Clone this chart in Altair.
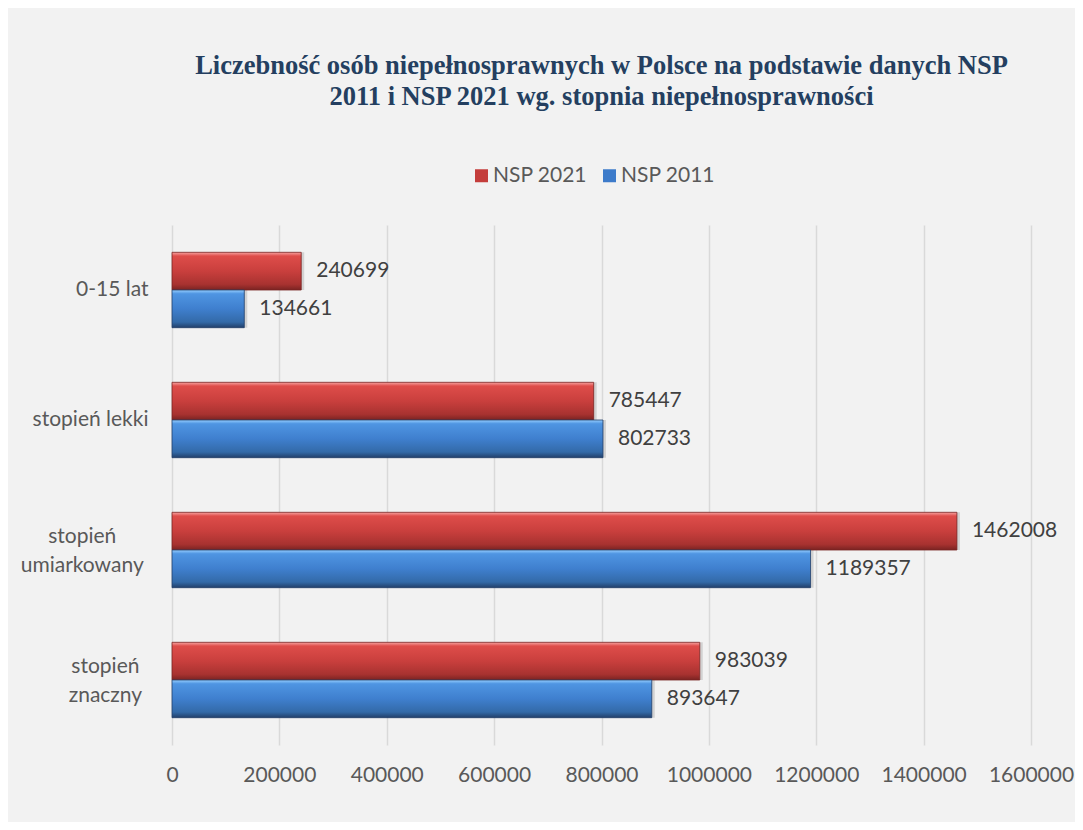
import json
import altair as alt
import pandas as pd

categories = ["0-15 lat", "stopień lekki", "stopień umiarkowany", "stopień znaczny"]
label_lines = [["0-15 lat"], ["stopień lekki"], ["stopień", "umiarkowany"], ["stopień", "znaczny"]]
series = ["NSP 2021", "NSP 2011"]
nsp2021 = [240699, 785447, 1462008, 983039]
nsp2011 = [134661, 802733, 1189357, 893647]
x_ticks = [0, 200000, 400000, 600000, 800000, 1000000, 1200000, 1400000, 1600000]
title_lines = [
    "Liczebność osób niepełnosprawnych w Polsce na podstawie danych NSP",
    "2011 i NSP 2021 wg. stopnia niepełnosprawności",
]

rows = []
for c, a, b in zip(categories, nsp2021, nsp2011):
    rows.append({"category": c, "series": series[0], "value": a})
    rows.append({"category": c, "series": series[1], "value": b})
df = pd.DataFrame(rows)
lab_df = pd.DataFrame({"category": categories, "lines": label_lines})
multi = [c for c, l in zip(categories, label_lines) if len(l) > 1]

LABEL_FONT = "Lato"
FS = 21
GRAY = "#595959"

red_grad = alt.Gradient(
    gradient="linear", x1=0, x2=0, y1=0, y2=1,
    stops=[
        alt.GradientStop(offset=0, color="#f7a3a1"),
        alt.GradientStop(offset=0.1, color="#de4d4a"),
        alt.GradientStop(offset=0.5, color="#c93f3d"),
        alt.GradientStop(offset=0.85, color="#a83230"),
        alt.GradientStop(offset=1, color="#7a2322"),
    ],
)
blue_grad = alt.Gradient(
    gradient="linear", x1=0, x2=0, y1=0, y2=1,
    stops=[
        alt.GradientStop(offset=0, color="#96ceff"),
        alt.GradientStop(offset=0.1, color="#4f95e2"),
        alt.GradientStop(offset=0.5, color="#3f7fce"),
        alt.GradientStop(offset=0.85, color="#336aa8"),
        alt.GradientStop(offset=1, color="#223f6a"),
    ],
)

y_enc = alt.Y(
    "category:N",
    sort=categories,
    title=None,
    scale=alt.Scale(paddingInner=0.42, paddingOuter=0.21),
    axis=alt.Axis(
        domain=False,
        ticks=False,
        grid=False,
        labelFont=LABEL_FONT,
        labelFontSize=FS,
        labelColor=GRAY,
        labelPadding=24,
        labelLimit=300,
        labelExpr="indexof(" + json.dumps(multi) + ", datum.value) >= 0 ? '' : datum.value",
    ),
)
yoff_enc = alt.YOffset("series:N", sort=series, scale=alt.Scale(paddingInner=0, paddingOuter=0))
x_enc = alt.X(
    "value:Q",
    title=None,
    scale=alt.Scale(domain=[0, 1600000], nice=False),
    axis=alt.Axis(
        values=x_ticks,
        format="d",
        grid=True,
        gridColor="#d9d9d9",
        gridWidth=1.5,
        domain=False,
        ticks=False,
        labelOverlap=False,
        labelFlush=False,
        labelFont=LABEL_FONT,
        labelFontSize=FS,
        labelColor=GRAY,
        labelPadding=19,
    ),
)

base = alt.Chart(df).encode(x=x_enc, y=y_enc, yOffset=yoff_enc)

shadow = base.mark_bar(color="#000000", opacity=0.13, xOffset=3, yOffset=3)

legend_layer = base.mark_bar(opacity=0).encode(
    color=alt.Color(
        "series:N",
        scale=alt.Scale(domain=series, range=["#c43d3b", "#3d7bca"]),
        legend=alt.Legend(
            title=None,
            orient="none",
            legendX=299,
            legendY=-60,
            direction="horizontal",
            symbolType="square",
            symbolSize=169,
            symbolOpacity=1,
            symbolStrokeWidth=0,
            labelFont=LABEL_FONT,
            labelFontSize=FS,
            labelColor=GRAY,
            labelOffset=1,
            columnPadding=11,
            padding=0,
        ),
    )
)

red_bars = base.transform_filter(alt.datum.series == series[0]).mark_bar(
    fill=red_grad, stroke="#7a2322", strokeWidth=0.8
)
blue_bars = base.transform_filter(alt.datum.series == series[1]).mark_bar(
    fill=blue_grad, stroke="#223f6a", strokeWidth=0.8
)

values_text = base.mark_text(
    align="left", baseline="middle", dx=15, font=LABEL_FONT, fontSize=FS, color="#404040"
).encode(text=alt.Text("value:Q", format="d"))

ylabels = (
    alt.Chart(lab_df)
    .transform_filter("length(datum.lines) > 1")
    .transform_calculate(
        px="-(26 + 5.8 * max(length(datum.lines[0]), length(datum.lines[length(datum.lines) - 1])))"
    )
    .mark_text(
        align="center",
        baseline="middle",
        font=LABEL_FONT,
        fontSize=FS,
        color=GRAY,
        lineHeight=29,
        dy=-13.5,
        dx=alt.expr("datum.px"),
    )
    .encode(y=alt.Y("category:N", sort=categories), x=alt.value(0), text="lines")
)

chart = (
    alt.layer(shadow, legend_layer, red_bars, blue_bars, values_text, ylabels)
    .properties(
        width=859,
        height=520,
        autosize=alt.AutoSizeParams(type="none"),
        padding={"left": 164, "top": 217, "right": 44, "bottom": 77},
        background="#f2f2f2",
        title=alt.Title(
            text=title_lines,
            font="Liberation Serif",
            fontSize=26.5,
            fontWeight="bold",
            color="#243f60",
            lineHeight=31,
            anchor="middle",
            frame="group",
            offset=55,
        ),
    )
    .configure_view(stroke=None)
)

chart.save("out.html", embed_options={"renderer": "svg", "actions": False})
